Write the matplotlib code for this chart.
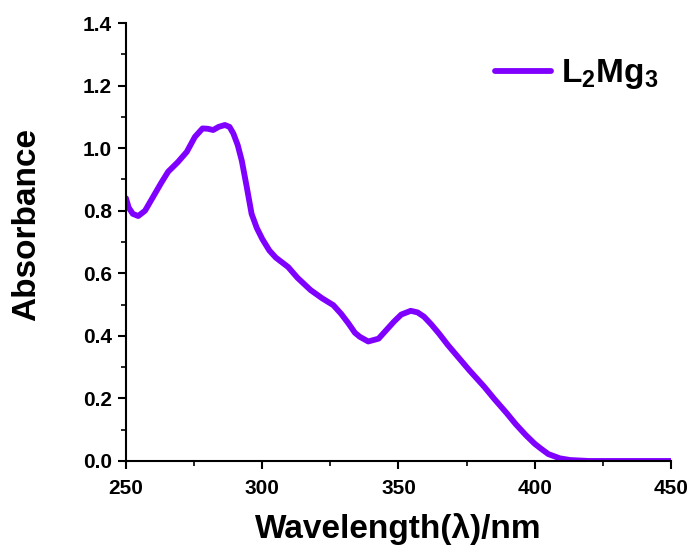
import numpy as np
import matplotlib
matplotlib.use("Agg")
import matplotlib.pyplot as plt
from matplotlib.ticker import MultipleLocator

plt.rcParams['font.family'] = ['Liberation Sans', 'DejaVu Sans']
plt.rcParams['font.weight'] = 'bold'
plt.rcParams['mathtext.fontset'] = 'custom'
plt.rcParams['mathtext.rm'] = 'Liberation Sans:bold'
plt.rcParams['mathtext.bf'] = 'Liberation Sans:bold'
plt.rcParams['mathtext.it'] = 'Liberation Sans:bold'

# UV-vis spectrum
wavelength = [250, 251, 252.5, 254.5, 257, 260, 263, 265.5, 269, 272.3, 275.3,
              278.1, 280, 282, 284, 286.3, 288, 289.4, 291, 292.5, 294.3,
              296.1, 298, 300, 302.6, 305, 309.5, 313, 317.8, 322, 326.1, 329,
              331.7, 334, 335.8, 338.9, 342.7, 345.5, 348.3, 351, 354.5, 357,
              359.4, 362, 364.9, 368, 371.8, 376, 381.5, 385, 389.8, 393,
              396.7, 400, 402.2, 405, 409.2, 413, 420, 430, 450]
absorbance = [0.84, 0.81, 0.79, 0.783, 0.80, 0.845, 0.89, 0.925, 0.955, 0.988,
              1.036, 1.063, 1.062, 1.058, 1.068, 1.074, 1.068, 1.047, 1.01,
              0.96, 0.877, 0.79, 0.745, 0.71, 0.673, 0.65, 0.62, 0.585, 0.546,
              0.52, 0.498, 0.47, 0.439, 0.41, 0.397, 0.382, 0.391, 0.418,
              0.445, 0.468, 0.48, 0.475, 0.461, 0.437, 0.407, 0.372, 0.333,
              0.29, 0.237, 0.2, 0.152, 0.118, 0.083, 0.055, 0.040, 0.022,
              0.0085, 0.003, 0.0, 0.0, 0.0]
series_label = r'$\mathbf{L_2Mg_3}$'

fig = plt.figure(figsize=(6.91, 5.48), dpi=100)
ax = fig.add_axes([0.1823, 0.1588, 0.7887, 0.7992])

ax.plot(wavelength, absorbance, color='#8000ff', lw=4.2,
        solid_capstyle='round', solid_joinstyle='round', label=series_label)

ax.set_xlim(250, 450)
ax.set_ylim(0, 1.4)
ax.xaxis.set_major_locator(MultipleLocator(50))
ax.xaxis.set_minor_locator(MultipleLocator(25))
ax.yaxis.set_major_locator(MultipleLocator(0.2))
ax.yaxis.set_minor_locator(MultipleLocator(0.1))
ax.yaxis.set_major_formatter(plt.FuncFormatter(lambda v, p: f"{v:.1f}"))

for s in ['top', 'right']:
    ax.spines[s].set_visible(False)
for s in ['left', 'bottom']:
    ax.spines[s].set_linewidth(1.5)

ax.tick_params(which='major', length=6, width=1.5, labelsize=15)
ax.tick_params(which='minor', length=3.5, width=1.2)
ax.tick_params(axis='x', which='major', pad=7)
ax.tick_params(axis='y', which='major', pad=4)

ax.set_xlabel('Wavelength(λ)/nm', fontsize=24, fontweight='bold', labelpad=11)
ax.set_ylabel('Absorbance', fontsize=24, fontweight='bold')
ax.yaxis.set_label_coords(-0.154, 0.539)

ax.legend(loc='upper left', bbox_to_anchor=(0.677, 0.922), frameon=False,
          fontsize=24, handlelength=1.67, handletextpad=0.3,
          borderaxespad=0, borderpad=0)

fig.savefig('out.png', dpi=100)
